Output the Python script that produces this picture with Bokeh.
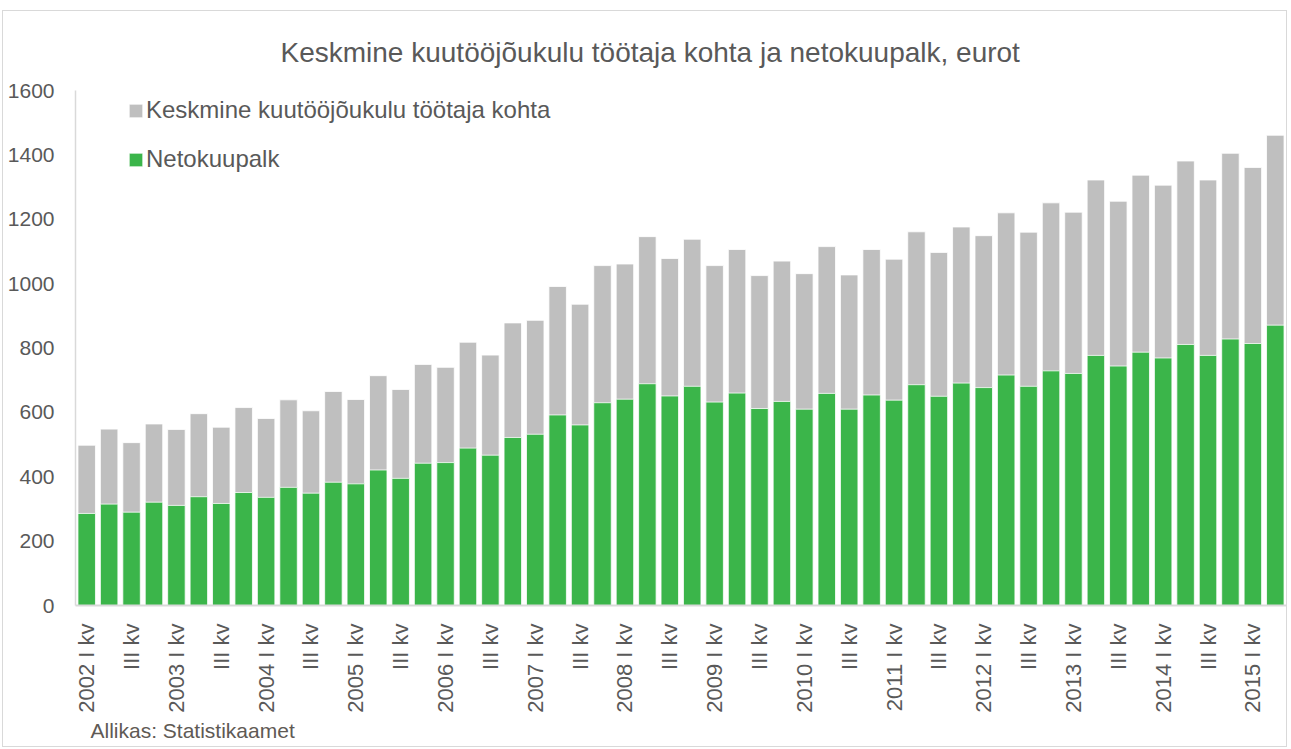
import math
from bokeh.plotting import figure
from bokeh.models import (Range1d, FixedTicker, Title, Legend, LegendItem)
from bokeh.embed import file_html
from bokeh.resources import INLINE

# ---- data (eurot) ----
quarters = [
    "2002 I kv", "2002 II kv", "2002 III kv", "2002 IV kv",
    "2003 I kv", "2003 II kv", "2003 III kv", "2003 IV kv",
    "2004 I kv", "2004 II kv", "2004 III kv", "2004 IV kv",
    "2005 I kv", "2005 II kv", "2005 III kv", "2005 IV kv",
    "2006 I kv", "2006 II kv", "2006 III kv", "2006 IV kv",
    "2007 I kv", "2007 II kv", "2007 III kv", "2007 IV kv",
    "2008 I kv", "2008 II kv", "2008 III kv", "2008 IV kv",
    "2009 I kv", "2009 II kv", "2009 III kv", "2009 IV kv",
    "2010 I kv", "2010 II kv", "2010 III kv", "2010 IV kv",
    "2011 I kv", "2011 II kv", "2011 III kv", "2011 IV kv",
    "2012 I kv", "2012 II kv", "2012 III kv", "2012 IV kv",
    "2013 I kv", "2013 II kv", "2013 III kv", "2013 IV kv",
    "2014 I kv", "2014 II kv", "2014 III kv", "2014 IV kv",
    "2015 I kv", "2015 II kv",
]

tick_labels = [
    "2002 I kv", "III kv", "2003 I kv", "III kv", "2004 I kv", "III kv",
    "2005 I kv", "III kv", "2006 I kv", "III kv", "2007 I kv", "III kv",
    "2008 I kv", "III kv", "2009 I kv", "III kv", "2010 I kv", "III kv",
    "2011 I kv", "III kv", "2012 I kv", "III kv", "2013 I kv", "III kv",
    "2014 I kv", "III kv", "2015 I kv",
]

labor_cost = [
    498, 548, 506, 564, 547, 596, 554, 615, 581, 639, 605, 665,
    640, 714, 671, 749, 740, 818, 778, 878, 886, 991, 936, 1056,
    1061, 1146, 1078, 1138, 1056, 1106, 1025, 1070, 1031, 1115, 1027, 1106,
    1076, 1161, 1097, 1176, 1149, 1220, 1160, 1251, 1222, 1322, 1256, 1337,
    1306, 1381, 1322, 1405, 1361, 1461,
]

net_wage = [
    286, 315, 290, 321, 311, 338, 317, 351, 336, 367, 349, 383,
    378, 421, 395, 442, 444, 489, 467, 522, 532, 592, 561, 630,
    641, 689, 651, 681, 632, 660, 612, 634, 610, 659, 610, 654,
    638, 686, 650, 691, 677, 716, 681, 729, 721, 777, 744, 787,
    769, 811, 777, 828, 814, 871,
]

y_ticks = [0, 200, 400, 600, 800, 1000, 1200, 1400, 1600]

series_names = ["Keskmine kuutööjõukulu töötaja kohta", "Netokuupalk"]
title_text = "Keskmine kuutööjõukulu töötaja kohta ja netokuupalk, eurot"
source_text = "Allikas: Statistikaamet"

GRAY = "#bfbfbf"
GREEN = "#3bb54a"
TEXT = "#595959"
FONT = "Liberation Sans"

xs = list(range(len(quarters)))
tick_pos = [i for i in xs if quarters[i].split(" ")[1] in ("I", "III")][:len(tick_labels)]

p = figure(width=1285, height=737, output_backend="svg", toolbar_location=None,
           x_range=Range1d(-0.5, len(quarters) - 0.5), y_range=Range1d(0, 1600),
           min_border_left=72, min_border_right=2, min_border_top=79, min_border_bottom=143)
p.margin = (10, 0, 0, 2)
p.styles = {"border": "1px solid #d9d9d9"}
p.outline_line_color = None
p.xgrid.grid_line_color = None
p.ygrid.grid_line_color = None
p.background_fill_color = "white"
p.border_fill_color = "white"

r_gray = p.vbar(x=xs, top=labor_cost, width=0.78, fill_color=GRAY,
                line_color="white", line_width=0.8)
r_green = p.vbar(x=xs, top=net_wage, width=0.78, fill_color=GREEN,
                 line_color="white", line_width=0.8)

# y axis
ya = p.yaxis[0]
ya.ticker = FixedTicker(ticks=y_ticks)
ya.axis_line_color = "#d9d9d9"
ya.axis_line_width = 1.5
ya.major_tick_line_color = None
ya.minor_tick_line_color = None
ya.major_label_text_font = FONT
ya.major_label_text_font_size = "21px"
ya.major_label_text_color = TEXT
ya.major_label_standoff = 15

# x axis
xa = p.xaxis[0]
xa.ticker = FixedTicker(ticks=tick_pos)
xa.major_label_overrides = {pos: lab for pos, lab in zip(tick_pos, tick_labels)}
xa.major_label_orientation = math.pi / 2
xa.axis_line_color = "#d9d9d9"
xa.axis_line_width = 2
xa.major_tick_line_color = None
xa.minor_tick_line_color = None
xa.major_label_text_font = FONT
xa.major_label_text_font_size = "22px"
xa.major_label_text_color = TEXT
xa.major_label_standoff = 12

legend = Legend(items=[LegendItem(label=series_names[0], renderers=[r_gray]),
                       LegendItem(label=series_names[1], renderers=[r_green])],
                location=(52, 432), orientation="vertical")
legend.label_text_font = FONT
legend.label_text_font_size = "24px"
legend.label_text_color = TEXT
legend.glyph_width = 17
legend.glyph_height = 17
legend.label_standoff = 2
legend.spacing = 21
legend.padding = 0
legend.margin = 0
legend.border_line_color = None
legend.background_fill_alpha = 0
p.add_layout(legend, "center")

p.add_layout(Title(text=title_text, align="left", offset=205, standoff=46,
                   text_font=FONT, text_font_size="28px", text_color=TEXT,
                   text_font_style="normal"), "above")
p.add_layout(Title(text=source_text, align="left", offset=15, standoff=3,
                   text_font=FONT, text_font_size="21px", text_color="#5f5a55",
                   text_font_style="normal"), "below")

open("out.html", "w").write(file_html(p, INLINE))
